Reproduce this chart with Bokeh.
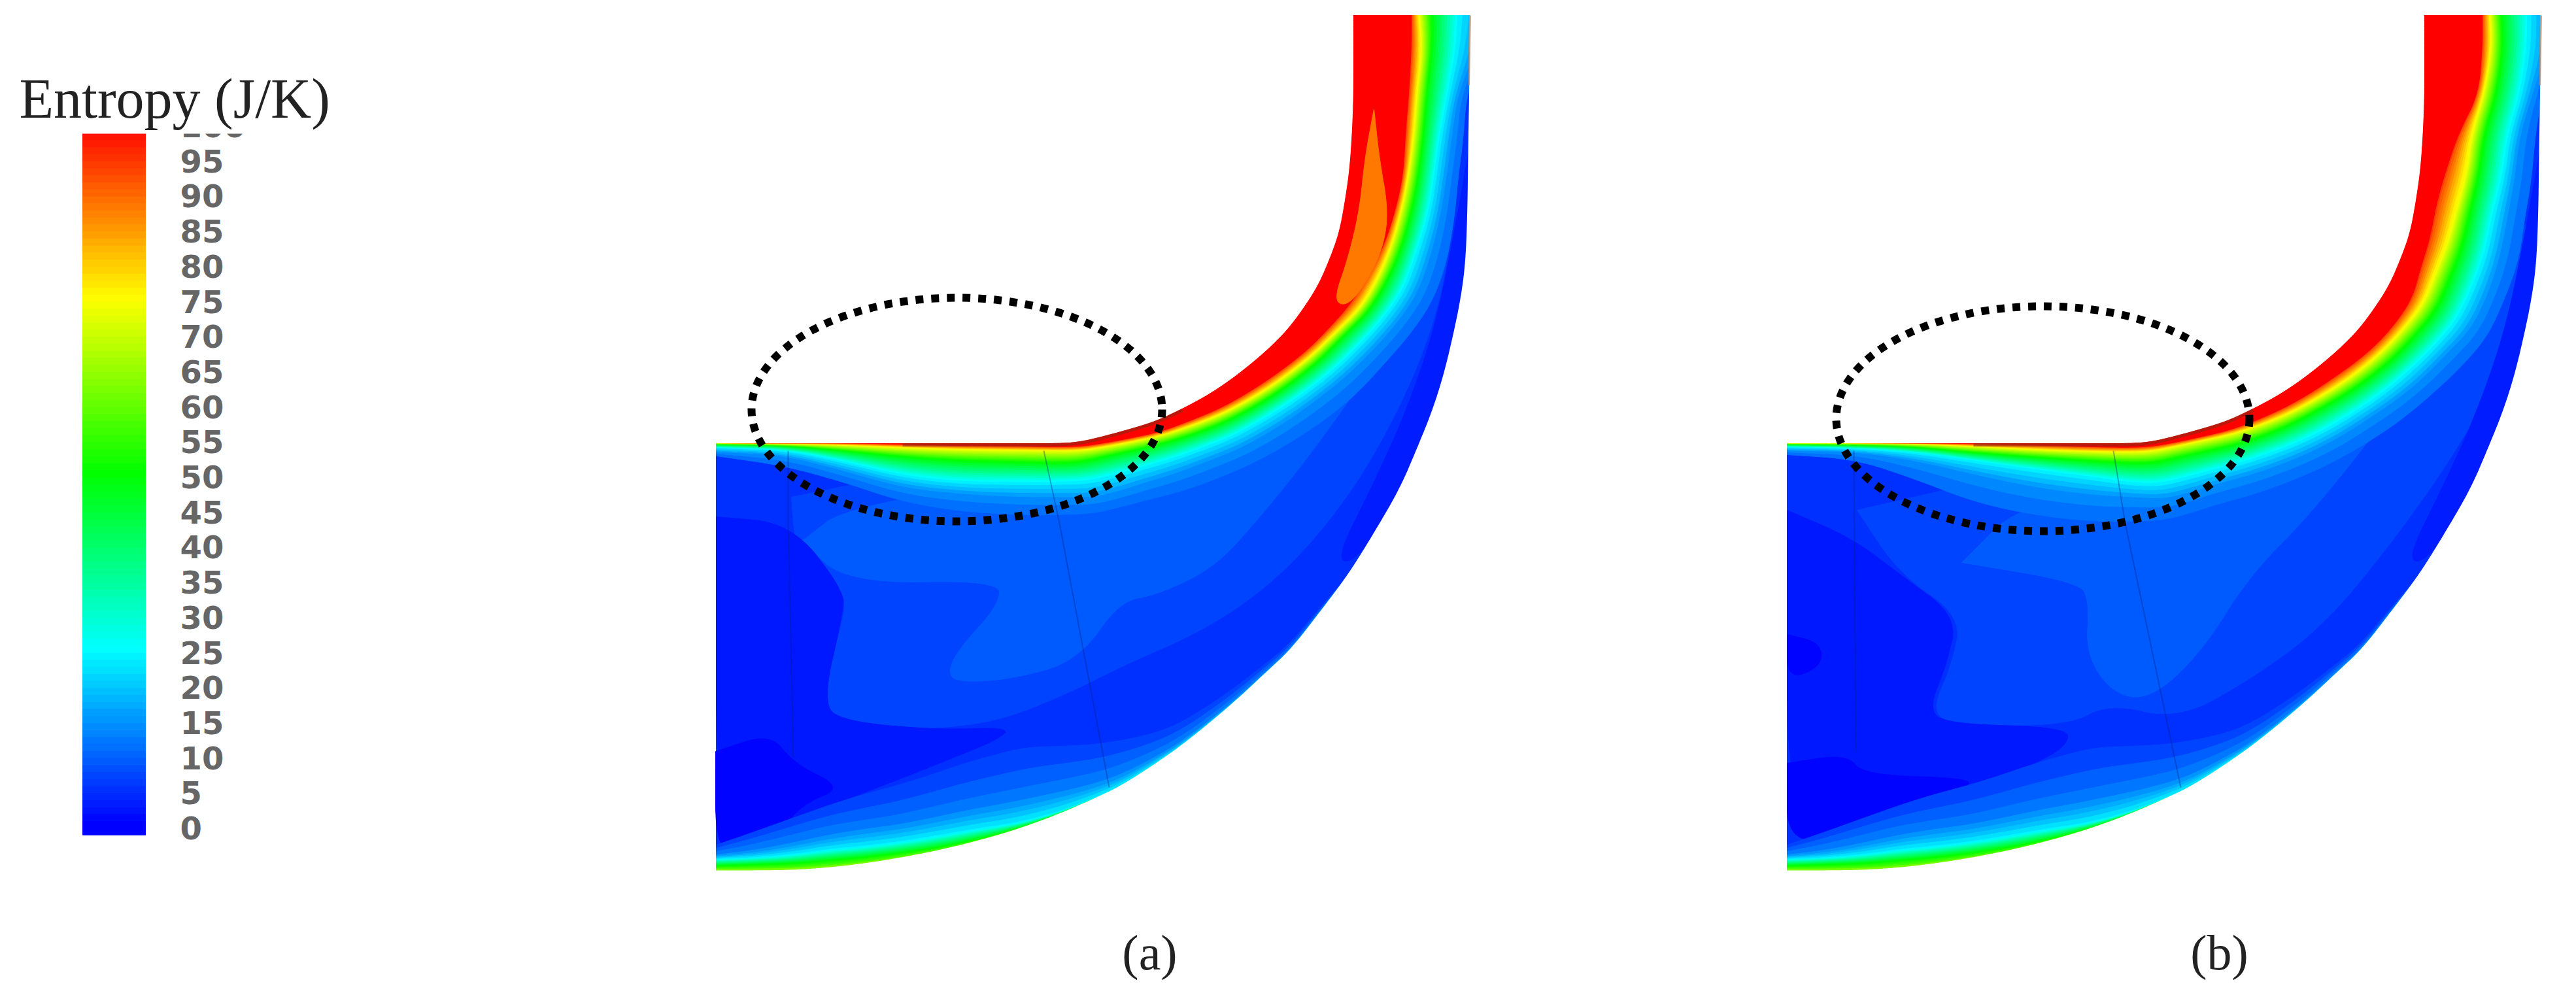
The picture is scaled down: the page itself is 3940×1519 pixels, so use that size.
import numpy as np

from bokeh.core.properties import value
from bokeh.embed import file_html
from bokeh.models import ColumnDataSource, LinearColorMapper, Range1d
from bokeh.plotting import figure
from bokeh.resources import INLINE
from bokeh.transform import transform

# colour scale of the contour plot
scale_anchors = [0, 25, 50, 75, 100]
scale_rgb = [(0, 0, 255), (0, 255, 255), (0, 255, 0), (255, 255, 0), (255, 0, 0)]
tick_values = list(range(0, 105, 5))
tick_labels = [str(v) for v in tick_values]
bar_levels = list(range(-1, 100))

# passage outline; panel (b) is the same outline shifted right
wall_x = [1095, 1200, 1290, 1380, 1470, 1560, 1624, 1655, 1688, 1725, 1768, 1808, 1847, 1880,
          1911, 1940, 1967, 1992, 2015, 2032, 2047, 2056, 2063, 2067, 2069, 2069, 2069]
wall_y = [677, 677, 677, 677, 677, 677, 677, 674, 666, 656, 643, 624, 603, 581,
          557, 532, 505, 472, 436, 397, 356, 307, 258, 200, 143, 75, 23]
outer_x = [1095, 1154, 1215, 1273, 1330, 1385, 1440, 1497, 1552, 1608, 1660, 1712, 1765, 1815, 1887, 1935,
           1975, 2020, 2063, 2105, 2142, 2168, 2190, 2208, 2222, 2234, 2242, 2245, 2246, 2248, 2248]
outer_y = [1332, 1332, 1331, 1327, 1320, 1311, 1300, 1286, 1270, 1250, 1228, 1204, 1170, 1135, 1075, 1030,
           993, 935, 878, 810, 746, 685, 631, 575, 517, 460, 402, 320, 230, 120, 23]
panel_shift = 1638

# distance of each entropy contour from the upper wall, one entry per wall station
wall_levels = [11, 15, 25, 50, 75, 95]
a_contours = [
    [20, 35, 60, 90, 105, 110, 110, 112, 112, 112, 115, 120, 125, 130, 135, 140, 145, 150, 160, 171, 171, 170, 167, 171, 173, 200, 200],
    [14, 20, 44, 70, 80, 85, 85, 90, 90, 88, 88, 92, 98, 102, 106, 110, 116, 125, 135, 147, 147, 150, 151, 155, 161, 190, 200],
    [7, 10, 28, 50, 60, 60, 60, 62, 62, 62, 63, 68, 74, 78, 83, 88, 94, 102, 112, 123, 123, 130, 131, 135, 145, 158, 161],
    [2, 4, 12, 22, 28, 30, 32, 32, 32, 34, 37, 44, 50, 55, 60, 64, 69, 75, 88, 95, 99, 104, 107, 110, 113, 121, 121],
    [0, 1, 3, 7, 10, 11, 12, 14, 17, 20, 24, 30, 36, 41, 46, 50, 55, 62, 74, 80, 83, 88, 91, 95, 97, 105, 101],
    [0, 0, 0, 2, 4, 5, 6, 8, 11, 14, 18, 22, 27, 31, 35, 39, 44, 50, 58, 64, 72, 79, 83, 82, 85, 89, 89],
]
b_contours = [
    [18, 25, 55, 90, 110, 120, 120, 122, 120, 118, 120, 125, 130, 135, 140, 145, 150, 160, 170, 171, 172, 169, 171, 172, 180, 200, 200],
    [12, 14, 28, 50, 70, 82, 85, 92, 92, 90, 92, 98, 103, 108, 112, 118, 125, 132, 145, 147, 145, 145, 147, 150, 167, 190, 190],
    [6, 8, 14, 27, 40, 52, 62, 66, 66, 66, 68, 74, 80, 85, 90, 95, 100, 108, 117, 119, 120, 120, 127, 131, 147, 158, 159],
    [2, 3, 6, 15, 22, 28, 32, 34, 34, 36, 40, 46, 50, 54, 60, 65, 70, 76, 83, 83, 84, 86, 91, 95, 111, 121, 119],
    [0, 0, 1, 5, 10, 13, 14, 15, 16, 18, 22, 28, 33, 37, 42, 46, 50, 55, 60, 58, 60, 64, 71, 75, 91, 103, 101],
    [0, 0, 0, 1, 3, 6, 7, 8, 10, 12, 15, 19, 22, 25, 28, 32, 36, 40, 41, 34, 32, 32, 39, 55, 83, 89, 89],
]

# same thing along the lower edge, first 19 stations only
hub_levels = [7, 11, 15, 25, 50, 60]
hub_contours = [
    [40, 60, 80, 95, 105, 110, 115, 120, 120, 115, 95, 75, 50, 30, 18, 12, 8, 5, 0],
    [32, 45, 60, 70, 72, 72, 74, 74, 70, 62, 50, 38, 24, 14, 8, 5, 3, 2, 0],
    [24, 30, 40, 48, 50, 48, 48, 46, 40, 32, 22, 14, 8, 4, 2, 1, 1, 1, 0],
    [18, 20, 24, 28, 26, 24, 22, 18, 10, 4, 1, 0, 0, 0, 0, 0, 0, 0, 0],
    [8, 10, 11, 12, 10, 8, 5, 3, 1, 0, 0, 0, 0, 0, 0, 0, 0, 0, 0],
    [3, 3, 3, 3, 2, 1, 0, 0, 0, 0, 0, 0, 0, 0, 0, 0, 0, 0, 0],
]

# blue regions inside the passage: (level, x points, y points)
base_level = 5
a_regions = [
    (7, [1210, 1217, 1289, 1293, 1261, 1253, 1297, 1409, 1528, 1640, 1712, 1847, 1951, 2031, 2100, 2170, 2210, 2225, 1900, 1500],
     [760, 846, 901, 938, 1029, 1084, 1107, 1116, 1103, 1057, 1020, 961, 887, 800, 700, 560, 430, 300, 600, 700]),
    (9, [1225, 1297, 1528, 1528, 1465, 1449, 1465, 1544, 1648, 1712, 1768, 1855, 1919, 2000, 2100, 2140, 1800, 1300],
     [828, 892, 887, 924, 993, 1029, 1043, 1039, 1011, 919, 910, 869, 800, 700, 560, 430, 700, 770]),
    (3, [2246, 2242, 2222, 2190, 2142, 2079, 2040, 2100, 2150, 2195, 2225],
     [230, 402, 517, 631, 746, 855, 860, 740, 630, 500, 350]),
    (2.5, [1095, 1210, 1289, 1289, 1257, 1289, 1433, 1544, 1528, 1449, 1369, 1257, 1210, 1095],
     [790, 800, 901, 938, 1075, 1103, 1116, 1112, 1130, 1162, 1194, 1236, 1282, 1305]),
    (0.5, [1094, 1178, 1213, 1289, 1233, 1201, 1146, 1094],
     [1149, 1121, 1167, 1204, 1227, 1259, 1300, 1305]),
]
b_regions = [
    (7, [2840, 2905, 3000, 2985, 2955, 2980, 3162, 3225, 3330, 3440, 3550, 3650, 3750, 3830, 3870, 3880, 3600, 3100],
     [780, 878, 942, 1016, 1084, 1107, 1110, 1075, 1100, 1040, 960, 840, 700, 560, 420, 300, 600, 720]),
    (9, [3000, 3180, 3195, 3190, 3230, 3287, 3365, 3440, 3530, 3650, 3760, 3810, 3500, 3100],
     [860, 890, 920, 1000, 1060, 1070, 1000, 880, 790, 640, 480, 360, 700, 760]),
    (3, [3884, 3880, 3860, 3828, 3780, 3717, 3678, 3738, 3788, 3833, 3863],
     [230, 402, 517, 631, 746, 855, 860, 740, 630, 500, 350]),
    (2.5, [2733, 2833, 2905, 2993, 2977, 2949, 2977, 3162, 3162, 3114, 3018, 2865, 2733],
     [780, 823, 878, 942, 1016, 1084, 1107, 1112, 1139, 1167, 1208, 1263, 1300]),
    (0.5, [2733, 2785, 2785, 2733], [970, 983, 1020, 1039]),
    (0.5, [2733, 2825, 2849, 3018, 3002, 2865, 2733], [1167, 1153, 1185, 1190, 1208, 1259, 1300]),
]

# orange core inside the red band of panel (a)
a_core_level = 88
a_core_x = [2101, 2109, 2123, 2115, 2087, 2059, 2039, 2061, 2079, 2087]
a_core_y = [166, 241, 321, 379, 436, 468, 459, 396, 321, 241]

# faint blade edges
a_blades = [([1205, 1205, 1213], [689, 800, 1158]), ([1596, 1620, 1696], [689, 800, 1204])]
b_blades = [([2835, 2838], [689, 1150]), ([3232, 3250, 3335], [689, 800, 1204])]

# dotted marks: centre x, centre y, width, height
a_mark = (1463, 626, 628, 342)
b_mark = (3124, 640, 632, 344)

captions = ["(a)", "(b)"]
caption_x = [1758, 3394]


def make_palette():
    grid = np.linspace(0, 100, 256)
    chans = [np.interp(grid, scale_anchors, [c[i] for c in scale_rgb]) for i in range(3)]
    return ["#%02x%02x%02x" % (int(r), int(g), int(b)) for r, g, b in zip(*chans)]


def round_open(xs, ys, passes=3):
    # corner cutting so the traced outlines do not show their stations
    pts = np.column_stack([xs, ys]).astype(float)
    for _ in range(passes):
        q = 0.75 * pts[:-1] + 0.25 * pts[1:]
        r = 0.25 * pts[:-1] + 0.75 * pts[1:]
        mid = np.empty((2 * len(q), 2))
        mid[0::2] = q
        mid[1::2] = r
        pts = np.vstack([pts[:1], mid, pts[-1:]])
    return pts[:, 0], pts[:, 1]


def round_closed(xs, ys):
    x2, y2 = round_open(list(xs) + [xs[0]], list(ys) + [ys[0]])
    return list(x2), list(y2)


def offset_curve(xs, ys, dist, side):
    tx = np.gradient(np.asarray(xs, dtype=float))
    ty = np.gradient(np.asarray(ys, dtype=float))
    norm = np.hypot(tx, ty)
    tx, ty = tx / norm, ty / norm
    return np.asarray(xs) - side * ty * dist, np.asarray(ys) + side * tx * dist


def bands(xs, ys, levels, rows, side, top):
    # nested polygons from the lowest contour up, with shades between the read contours
    rows = np.asarray(rows, dtype=float)
    out_x, out_y, out_level = [], [], []
    rim_x, rim_y = round_open(xs, ys)
    for lev in list(np.arange(levels[0], levels[-1], 2.5)) + [levels[-1]]:
        dist = np.array([np.interp(lev, levels, rows[:, i]) for i in range(rows.shape[1])])
        ox, oy = offset_curve(xs, ys, dist, side)
        ox, oy = round_open(ox, oy)
        out_x.append(list(rim_x) + list(ox[::-1]))
        out_y.append(list(rim_y) + list(oy[::-1]))
        out_level.append(top if lev >= levels[-1] else lev)
    return out_x, out_y, out_level


mapper = LinearColorMapper(palette=make_palette(), low=0, high=100)

p = figure(width=3924, height=1503, x_range=(0, 3924), y_range=(1503, 0),
           output_backend="svg", toolbar_location=None, min_border=0,
           outline_line_color=None, background_fill_color="white")
p.axis.visible = False
p.grid.visible = False

# value scale of the legend: 0 sits at pixel row 1266, 5 units every 53.7 px
p.extra_y_ranges = {"entropy": Range1d((1266 - 1503) / 10.74, 1266 / 10.74)}


def draw_panel(shift, right, contours, regions, blades, mark, core=None):
    wx = np.array(wall_x) + shift
    ox = np.array(outer_x) + shift
    wy = np.array(wall_y)
    oy = np.array(outer_y)
    wx_r, wy_r = round_open(wx, wy)
    ox_r, oy_r = round_open(ox, oy)

    xs = [list(wx_r) + list(ox_r[::-1])]
    ys = [list(wy_r) + list(oy_r[::-1])]
    levels = [base_level]
    for lev, rx, ry in regions:
        rx2, ry2 = round_closed(rx, ry)
        xs.append(rx2)
        ys.append(ry2)
        levels.append(lev)

    bx, by, bl = bands(wx, wy, wall_levels, contours, 1, 100)
    xs += bx
    ys += by
    levels += bl
    if core is not None:
        cx, cy = round_closed(core[1], core[2])
        xs.append(cx)
        ys.append(cy)
        levels.append(core[0])

    n = len(hub_contours[0])
    hx, hy, hl = bands(ox[:n], oy[:n], hub_levels, hub_contours, -1, 62)
    xs += hx
    ys += hy
    levels += hl

    src = ColumnDataSource(data=dict(xs=xs, ys=ys, level=levels))
    color = transform("level", mapper)
    p.patches("xs", "ys", source=src, fill_color=color, line_color=color, line_width=1)

    # white outside both edges hides anything that runs over them
    p.patch(list(ox_r) + [right, right, ox[0]], list(oy_r) + [oy[-1], 1400, 1400],
            fill_color="white", line_color="white", line_width=2)
    p.patch(list(wx_r) + [wx[0]], list(wy_r) + [wy[-1]],
            fill_color="white", line_color="white", line_width=1)

    ex, ey = round_open(wx[3:12], wy[3:12])
    p.line(ex, ey + 3, line_color="#8a2a14", line_alpha=0.6, line_width=5)
    p.line([ox[-1], ox[-3]], [oy[-1], oy[-3] - 100], line_color="#b08060", line_alpha=0.7, line_width=3)

    for bl_x, bl_y in blades:
        p.line(bl_x, bl_y, line_color="#002080", line_alpha=0.35, line_width=2)

    p.ellipse(x=[mark[0]], y=[mark[1]], width=[mark[2]], height=[mark[3]], fill_color=None,
              line_color="black", line_width=12, line_dash="12 12")


draw_panel(0, 2320, a_contours, a_regions, a_blades, a_mark, core=(a_core_level, a_core_x, a_core_y))
draw_panel(panel_shift, 3920, b_contours, b_regions, b_blades, b_mark)

# legend bar
bar_src = ColumnDataSource(data=dict(level=bar_levels, top=[v + 1 for v in bar_levels]))
bar_color = transform("level", mapper)
p.quad(left=126, right=222, bottom="level", top="top", source=bar_src, y_range_name="entropy",
       fill_color=bar_color, line_color=bar_color, line_width=1)

tick_src = ColumnDataSource(data=dict(y=tick_values, label=tick_labels, x=[275] * len(tick_values)))
p.text(x="x", y="y", text="label", source=tick_src, y_range_name="entropy",
       text_font=value("DejaVu Sans"), text_font_size="48px", text_font_style="bold",
       text_color="#666666", text_baseline="middle", text_align="left")

# the title box covers the top of the bar and most of the "100"
p.quad(left=100, right=520, top=100, bottom=204, fill_color="white", line_color=None)

p.text(x=[29], y=[150], text=["Entropy (J/K)"], text_font=value("Liberation Serif"),
       text_font_size="86px", text_color="#222222", text_baseline="middle", text_align="left")

p.text(x=caption_x, y=[1456, 1456], text=captions, text_font=value("Liberation Serif"),
       text_font_size="76px", text_color="#222222", text_baseline="middle", text_align="center")

open("out.html", "w").write(file_html(p, INLINE))
